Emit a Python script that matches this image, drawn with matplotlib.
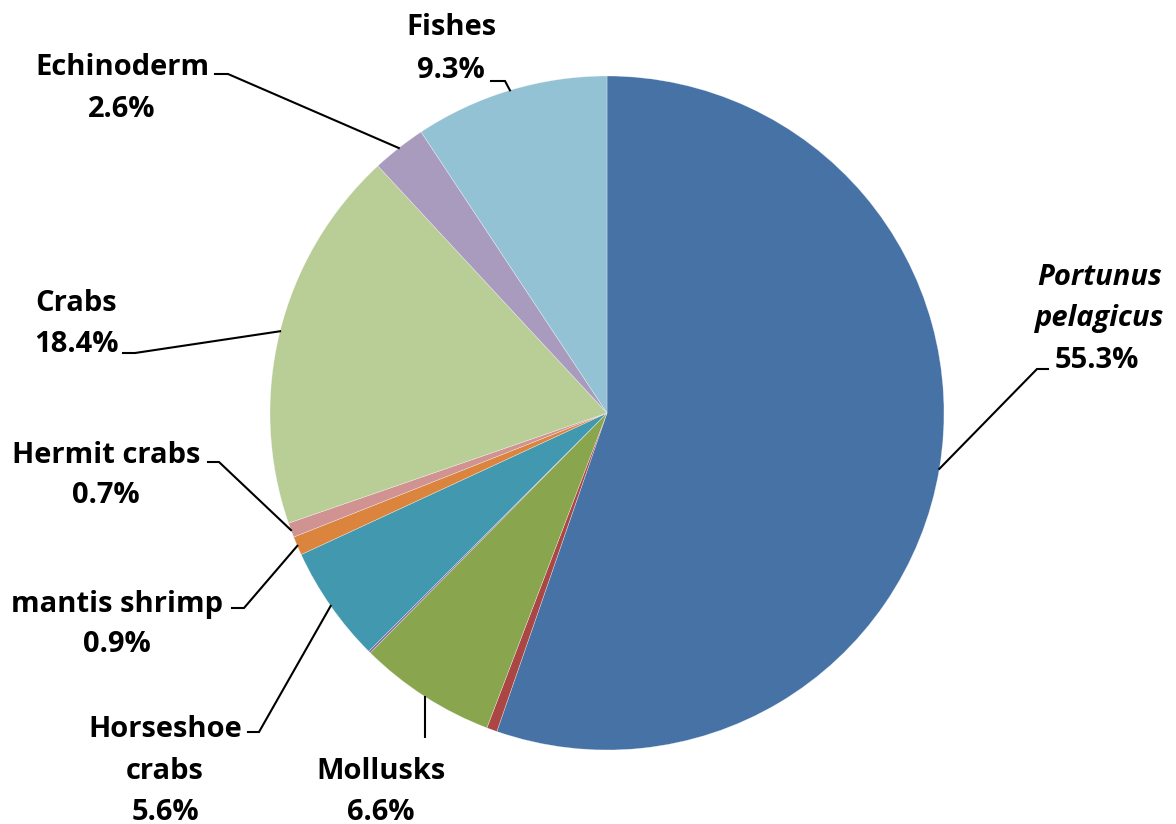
import matplotlib
matplotlib.use("Agg")
import matplotlib.pyplot as plt
import numpy as np

# Data (clockwise from 12 o'clock)
categories = ["Portunus pelagicus", "Other 1", "Mollusks", "Other 2", "Horseshoe crabs",
              "mantis shrimp", "Hermit crabs", "Crabs", "Echinoderm", "Fishes"]
values = [55.3, 0.5, 6.6, 0.1, 5.6, 0.9, 0.7, 18.4, 2.6, 9.3]
colors = ["#4672A6", "#AA4643", "#89A54E", "#80699B", "#4198AF",
          "#DB843D", "#D09392", "#B9CD96", "#A99BBD", "#93C2D4"]

W, H = 1176, 824
fig = plt.figure(figsize=(W / 100, H / 100), dpi=100)
ax = fig.add_axes([0, 0, 1, 1])

def Y(y):
    return H - y

cx, cy, R = 607, 413, 337
wedges, _ = ax.pie(values, colors=colors, startangle=90, counterclock=False,
                   center=(cx, Y(cy)), radius=R,
                   wedgeprops=dict(linewidth=0.4, edgecolor=(1, 1, 1, 0.5)))
ax.set_xlim(0, W)
ax.set_ylim(0, H)
ax.set_aspect("equal")
ax.axis("off")

FONT = "Open Sans"
FS = 21

# label layout: index -> (lines [(text, style)], center x, baselines, end point, elbow point)
labels = {
    9: ([("Fishes", "normal"), ("9.3%", "normal")], 451, [35, 78], (491, 81), (505, 81)),
    8: ([("Echinoderm", "normal"), ("2.6%", "normal")], 122, [75, 117], (215, 74), (228, 74)),
    7: ([("Crabs", "normal"), ("18.4%", "normal")], 76, [311, 352], (123, 353), (135, 353)),
    6: ([("Hermit crabs", "normal"), ("0.7%", "normal")], 106, [463, 503], (208, 462), (219, 462)),
    5: ([("mantis shrimp", "normal"), ("0.9%", "normal")], 117, [612, 652], (232, 608), (244, 608)),
    4: ([("Horseshoe", "normal"), ("crabs", "normal"), ("5.6%", "normal")], 165, [737, 779, 820],
        (248, 732), (259, 732)),
    2: ([("Mollusks", "normal"), ("6.6%", "normal")], 381, [779, 820], None, None),
    0: ([("Portunus", "italic"), ("pelagicus", "italic"), ("55.3%", "normal")], 1100, [285, 326, 368],
        (1048, 369), (1037, 369)),
}

for idx, (lines, x, bases, end, elbow) in labels.items():
    for (txt, style), b in zip(lines, bases):
        xx = x if txt != "55.3%" else 1097
        ax.text(xx, Y(b), txt, ha="center", va="baseline", fontsize=FS,
                fontweight="bold", fontstyle=style, family=FONT, color="black")
    w = wedges[idx]
    mid = np.deg2rad((w.theta1 + w.theta2) / 2)
    ex, ey = cx + R * np.cos(mid), Y(cy) + R * np.sin(mid)
    if end is None:
        ax.plot([ex, ex], [ey, Y(738)], color="black", lw=1.5, solid_capstyle="butt")
    else:
        ax.plot([end[0], elbow[0], ex], [Y(end[1]), Y(elbow[1]), ey], color="black", lw=1.5,
                solid_joinstyle="miter")

fig.savefig("out.png", dpi=100, facecolor="white")
